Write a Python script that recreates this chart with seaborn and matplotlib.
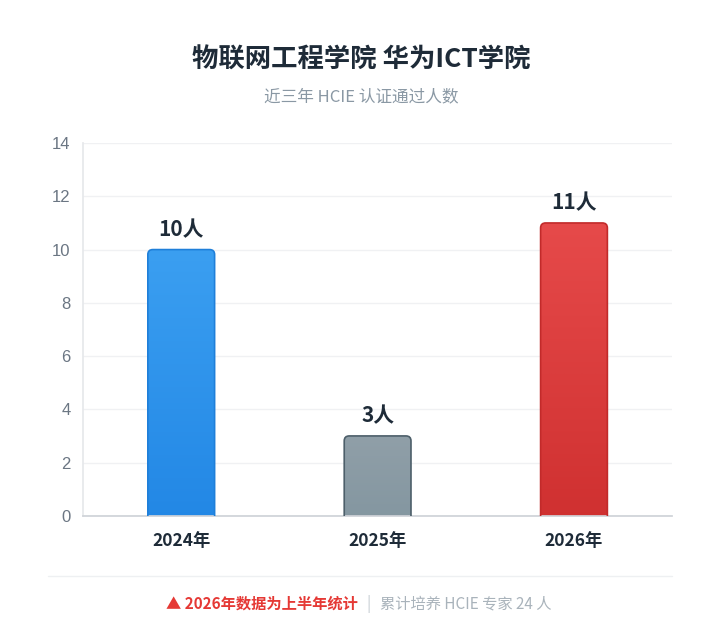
import numpy as np
import pandas as pd
import matplotlib
matplotlib.use("Agg")
import matplotlib.pyplot as plt
import seaborn as sns
from matplotlib.patches import FancyBboxPatch
from matplotlib.colors import LinearSegmentedColormap

years = ["2024年", "2025年", "2026年"]
counts = [10, 3, 11]
top_colors = ["#3b9ff1", "#909fa8", "#e64a4a"]
bottom_colors = ["#2287e5", "#8396a0", "#cf3030"]
edge_colors = ["#1f7fd9", "#4d5f6a", "#c22a2a"]

sns.set_theme(style="white")
plt.rcParams["font.family"] = ["Noto Sans CJK SC", "DejaVu Sans"]

df = pd.DataFrame({"year": years, "count": counts})

fig = plt.figure(figsize=(7.22, 6.36), dpi=100)
ax = fig.add_axes([0.115, 0.189, 0.816, 0.586])

sns.barplot(data=df, x="year", y="count", ax=ax, width=0.34, color="white")
ax.set_ylim(0, 14)
ax.set_yticks(range(0, 15, 2))

# swap plain bars for rounded gradient ones
x_per_px = 3 / 589
y_per_px = 14 / 373
for i, p in enumerate(list(ax.patches)):
    x0, w, h = p.get_x(), p.get_width(), p.get_height()
    p.set_visible(False)
    box = FancyBboxPatch((x0, -0.3), w, h + 0.3,
                         boxstyle="round,pad=0,rounding_size=%f" % (5 * x_per_px),
                         mutation_aspect=y_per_px / x_per_px,
                         facecolor="none", edgecolor=edge_colors[i], linewidth=1.2, zorder=3)
    ax.add_patch(box)
    cmap = LinearSegmentedColormap.from_list("g", [bottom_colors[i], top_colors[i]])
    grad = np.linspace(0, 1, 256).reshape(-1, 1)
    im = ax.imshow(grad, extent=(x0, x0 + w, -0.3, h), origin="lower", aspect="auto",
                   cmap=cmap, zorder=2)
    im.set_clip_path(box)
    ax.text(x0 + w / 2, h + 0.35, f"{counts[i]}人", ha="center", va="bottom",
            fontsize=15, fontweight="bold", color="#1e2b38", zorder=4)

ax.set_xlim(-0.5, 2.5)
ax.set_ylim(0, 14)
ax.set_xlabel("")
ax.set_ylabel("")
ax.grid(axis="y", color="#f0f1f3", linewidth=1)
ax.set_axisbelow(True)
for s in ["top", "right"]:
    ax.spines[s].set_visible(False)
ax.spines["left"].set_color("#e6e8eb")
ax.spines["bottom"].set_color("#cfd3d8")
ax.tick_params(axis="y", colors="#6b7683", length=0, pad=9)
ax.tick_params(axis="x", length=0, pad=12)
for lab in ax.get_yticklabels():
    lab.set_fontfamily(["Liberation Sans", "DejaVu Sans"])
    lab.set_fontsize(12)
for lab in ax.get_xticklabels():
    lab.set_fontweight("bold")
    lab.set_fontsize(12.5)
    lab.set_color("#1e2b38")

fig.text(0.5, 0.905, "物联网工程学院 华为ICT学院", ha="center", va="center",
         fontsize=19, fontweight="bold", color="#1e2b38")
fig.text(0.5, 0.848, "近三年 HCIE 认证通过人数", ha="center", va="center",
         fontsize=12, color="#8a98a4")

fig.add_artist(plt.Line2D([48 / 722, 672 / 722], [1 - 576 / 636] * 2,
                          color="#eef0f2", linewidth=1, transform=fig.transFigure))
fy = 1 - 604 / 636
fig.text(358 / 722, fy, "▲ 2026年数据为上半年统计", ha="right", va="center",
         fontsize=11, fontweight="bold", color="#e53935")
fig.text(368 / 722, fy, "|", ha="center", va="center", fontsize=11, color="#c5ccd2")
fig.text(380 / 722, fy, "累计培养 HCIE 专家 24 人", ha="left", va="center",
         fontsize=11, color="#a9b3bb")

fig.savefig("out.png", dpi=100, facecolor="white")
